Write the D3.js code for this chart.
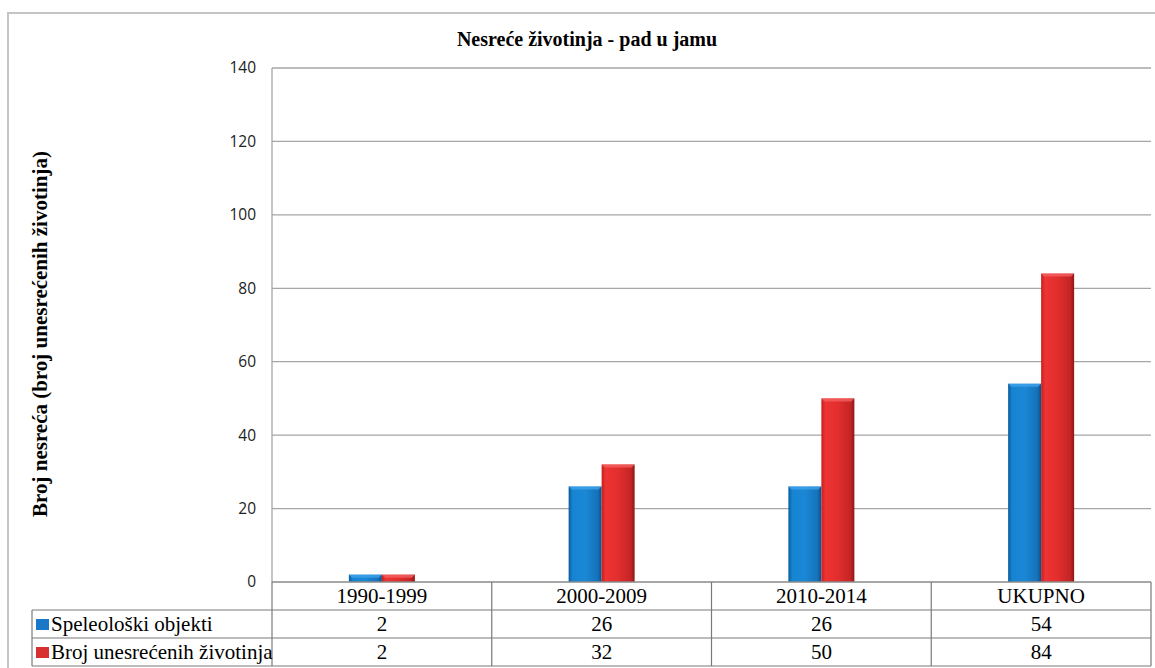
<!DOCTYPE html>
<html><head><meta charset="utf-8">
<script src="https://cdn.jsdelivr.net/npm/d3@7"></script>
<style>body{margin:0;background:#fff}svg{display:block}
.serif{font-family:"Liberation Serif","DejaVu Serif","Times New Roman",serif}
.sans{font-family:"Open Sans","Liberation Sans",sans-serif}
</style>
</head><body>
<script>
const categories = ["1990-1999", "2000-2009", "2010-2014", "UKUPNO"];
const seriesNames = ["Speleološki objekti", "Broj unesrećenih životinja"];
const speleo = [2, 26, 26, 54];
const zivotinje = [2, 32, 50, 84];
const yTicks = [0, 20, 40, 60, 80, 100, 120, 140];
const title = "Nesreće životinja - pad u jamu";
const yTitle = "Broj nesreća (broj unesrećenih životinja)";

(function () {
const W = 1155, H = 668;
const svg = d3.select("body").append("svg").attr("width", W).attr("height", H);
const defs = svg.append("defs");
function grad(id, stops) {
  const g = defs.append("linearGradient").attr("id", id).attr("x1", "0").attr("x2", "1").attr("y1", "0").attr("y2", "0");
  stops.forEach(s => g.append("stop").attr("offset", s[0]).attr("stop-color", s[1]));
}
grad("gb", [[0, "#0a5b9c"], [0.12, "#1784d2"], [0.5, "#1a88d6"], [0.88, "#1672bb"], [1, "#0b4f88"]]);
grad("gr", [[0, "#c42020"], [0.12, "#ee3333"], [0.5, "#e22e2e"], [0.88, "#c42525"], [1, "#8f1616"]]);
const fills = ["url(#gb)", "url(#gr)"];
const caps = ["#3ea3ea", "#f56060"];
const legendCol = ["#1b78c8", "#d83030"];

svg.append("rect").attr("x", 8).attr("y", 13).attr("width", 1160).attr("height", 670)
  .attr("fill", "none").attr("stroke", "#c4c4c4").attr("stroke-width", 2);

const pL = 272, pR = 1151, pT = 68, pB = 582;
const x = d3.scaleBand().domain(categories).range([pL, pR]);
const y = d3.scaleLinear().domain([0, 140]).range([pB, pT]);

svg.append("g").selectAll("line").data(yTicks.filter(d => d > 0)).join("line")
  .attr("x1", pL).attr("x2", pR).attr("y1", d => y(d)).attr("y2", d => y(d))
  .attr("stroke", "#a6a6a6").attr("stroke-width", 1.3);
svg.append("line").attr("x1", pL).attr("x2", pL).attr("y1", pT).attr("y2", pB)
  .attr("stroke", "#a6a6a6").attr("stroke-width", 1.3);

const yAxis = d3.axisLeft(y).tickValues(yTicks).tickSize(0).tickPadding(16);
const ya = svg.append("g").attr("transform", `translate(${pL},0)`).call(yAxis);
ya.select(".domain").remove();
ya.attr("font-family", null).attr("font-size", null);
ya.selectAll("text").attr("class", "sans").style("font-size", "15.5px").attr("fill", "#222");

const bw = 33;
const data = [speleo, zivotinje];
data.forEach((vals, si) => {
  const g = svg.append("g");
  categories.forEach((c, i) => {
    const cx = x(c) + x.bandwidth() / 2;
    const bx = si === 0 ? cx - bw : cx;
    const yt = y(vals[i]);
    const h = pB - yt;
    g.append("rect").attr("x", bx).attr("y", yt).attr("width", bw).attr("height", h).attr("fill", fills[si]);
    const capH = Math.min(3, h / 2);
    g.append("path").attr("d", `M${bx},${yt}L${bx + bw},${yt}L${bx + bw - 3},${yt + capH}L${bx + 3},${yt + capH}Z`)
      .attr("fill", caps[si]).attr("opacity", 0.8);
  });
});

svg.append("line").attr("x1", pL).attr("x2", pR).attr("y1", pB).attr("y2", pB)
  .attr("stroke", "#8a8a8a").attr("stroke-width", 1.3);

svg.append("text").attr("class", "serif").attr("x", 587).attr("y", 46).attr("text-anchor", "middle")
  .style("font-weight", "bold").style("font-size", "20px")
  .attr("fill", "#000").text(title);

svg.append("text").attr("class", "serif").attr("transform", "translate(47,334) rotate(-90)").attr("text-anchor", "middle")
  .style("font-weight", "bold").style("font-size", "21px")
  .attr("fill", "#000").text(yTitle);

const tblLeft = 32, rowY = [582, 610, 638, 666];
const tg = svg.append("g").attr("class", "serif").style("font-size", "21px").attr("fill", "#000");
const lineCol = "#7a7a7a";
[610, 638, 666].forEach(yy => tg.append("line").attr("x1", tblLeft).attr("x2", pR).attr("y1", yy).attr("y2", yy)
  .attr("stroke", lineCol).attr("stroke-width", 1.2));
tg.append("line").attr("x1", tblLeft).attr("x2", tblLeft).attr("y1", 610).attr("y2", 666).attr("stroke", lineCol).attr("stroke-width", 1.2);
categories.forEach(c => tg.append("line").attr("x1", x(c)).attr("x2", x(c)).attr("y1", 582).attr("y2", 666).attr("stroke", lineCol).attr("stroke-width", 1.2));
tg.append("line").attr("x1", pR).attr("x2", pR).attr("y1", 582).attr("y2", 666).attr("stroke", lineCol).attr("stroke-width", 1.2);
categories.forEach(c => tg.append("text").attr("x", x(c) + x.bandwidth() / 2).attr("y", 603)
  .attr("text-anchor", "middle").text(c));
data.forEach((vals, si) => {
  const ry = rowY[si + 1];
  tg.append("rect").attr("x", 36).attr("y", ry + 9).attr("width", 13).attr("height", 11).attr("fill", legendCol[si]);
  tg.append("text").attr("x", 51).attr("y", ry + 21).text(seriesNames[si]);
  categories.forEach((c, i) => tg.append("text").attr("x", x(c) + x.bandwidth() / 2).attr("y", ry + 21)
    .attr("text-anchor", "middle").text(vals[i]));
});
})();
</script>
</body></html>
